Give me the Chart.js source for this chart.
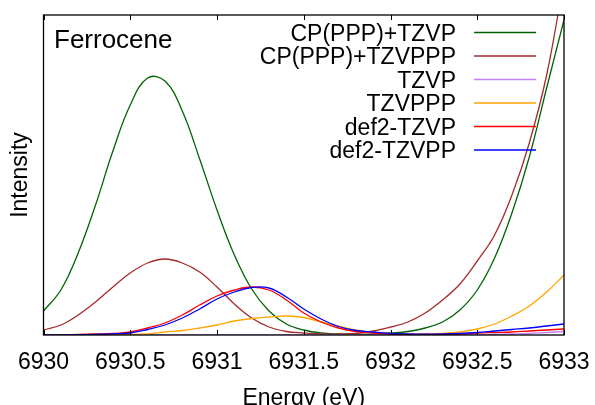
<!DOCTYPE html>
<html>
<head>
<meta charset="utf-8">
<script src="https://cdn.jsdelivr.net/npm/chart.js@4.4.0/dist/chart.umd.min.js"></script>
<style>
  html, body { margin: 0; padding: 0; background: #fff; overflow: hidden; }
  canvas { display: block; }
</style>
</head>
<body>
<canvas id="xanes" width="595" height="420"></canvas>
<script>
// pre-edge spectra, energy grid in eV
const energy = [6930.0, 6930.1, 6930.2, 6930.3, 6930.4, 6930.5, 6930.6, 6930.7, 6930.8, 6930.9,
                6931.0, 6931.1, 6931.2, 6931.3, 6931.4, 6931.5, 6931.6, 6931.7, 6931.8, 6931.9,
                6932.0, 6932.1, 6932.2, 6932.3, 6932.4, 6932.5, 6932.6, 6932.7, 6932.8, 6932.9,
                6933.0];

const cpTzvp   = [24, 45, 82, 130, 184, 230, 257, 254, 224, 176,
                  125, 80, 46, 24, 11, 5, 2, 1, 0.5, 1,
                  2, 3.5, 7, 13, 25, 45, 77, 122, 178, 247,
                  315];
const cpTzvppp = [5, 10, 20, 33, 48, 62, 72, 76, 72, 63,
                  48, 31, 17, 8, 3.5, 2, 1, 1, 1.5, 4,
                  8, 13, 22, 35, 51, 74, 100, 140, 192, 260,
                  355];
const tzvp     = [0, 0, 0, 0, 0, 0, 0, 0, 0, 0,
                  0, 0, 0, 0, 0, 0, 0, 0, 0, 0,
                  0, 0, 0, 0, 0, 0.3, 0.6, 1, 1.5, 2.5,
                  3.5];
const tzvppp   = [0, 0, 0, 0, 0.1, 0.5, 1.2, 3, 4.5, 7,
                  10, 14, 16.5, 18, 19, 17.5, 13, 9, 5, 2.5,
                  1.5, 1, 1, 1.5, 3, 6, 11, 19, 29, 43,
                  60];
const def2Tzvp = [0, 0, 0.5, 1, 1.5, 3, 7, 12, 20, 30,
                  39, 45, 48, 45, 35, 22, 13, 7, 3.5, 2,
                  1, 0.5, 0.5, 0.5, 1, 2, 2.5, 3, 4, 5,
                  6];
const def2Tzvpp = [0, 0, 0.3, 0.6, 1.2, 2, 5.5, 10, 17, 26,
                   36, 43, 47.5, 47, 38, 26, 16, 8.5, 4.5, 3,
                   1.5, 1, 0.8, 1, 1.5, 2.5, 4, 5.5, 7, 9,
                   11];

const energyTicks = [6930, 6930.5, 6931, 6931.5, 6932, 6932.5, 6933];

const series = [
  { label: 'CP(PPP)+TZVP',   data: cpTzvp,    color: '#006400' },
  { label: 'CP(PPP)+TZVPPP', data: cpTzvppp,  color: '#a52a2a' },
  { label: 'TZVP',           data: tzvp,      color: '#c080ff' },
  { label: 'TZVPPP',         data: tzvppp,    color: '#ffa500' },
  { label: 'def2-TZVP',      data: def2Tzvp,  color: '#ff0000' },
  { label: 'def2-TZVPP',     data: def2Tzvpp, color: '#0000ff' }
];

const FONT = "'Liberation Sans', Arial, Helvetica, sans-serif";

// gnuplot style border with inward tics on bottom and top
const frame = {
  id: 'frame',
  afterDatasetsDraw(chart) {
    const {ctx, chartArea: a, scales: {x}} = chart;
    ctx.save();
    ctx.strokeStyle = '#000';
    ctx.lineWidth = 1.3;
    ctx.strokeRect(a.left, a.top, a.right - a.left, a.bottom - a.top);
    ctx.lineWidth = 1;
    x.ticks.forEach(t => {
      const px = Math.round(x.getPixelForValue(t.value)) + 0.5;
      ctx.beginPath();
      ctx.moveTo(px, a.bottom);
      ctx.lineTo(px, a.bottom - 5);
      ctx.moveTo(px, a.top);
      ctx.lineTo(px, a.top + 5);
      ctx.stroke();
    });
    ctx.restore();
  }
};

// key in the top right corner: right aligned text, line sample after it
const key = {
  id: 'key',
  afterDraw(chart) {
    const {ctx} = chart;
    ctx.save();
    ctx.font = '23px ' + FONT;
    ctx.fillStyle = '#000';
    ctx.textAlign = 'right';
    ctx.textBaseline = 'alphabetic';
    chart.data.datasets.forEach((ds, i) => {
      const y = 32.5 + i * 23.5;
      ctx.fillText(ds.label, 456, y + 8);
      ctx.strokeStyle = ds.borderColor;
      ctx.lineWidth = 1.5;
      ctx.beginPath();
      ctx.moveTo(474, y);
      ctx.lineTo(536, y);
      ctx.stroke();
    });
    ctx.font = '26px ' + FONT;
    ctx.textAlign = 'left';
    ctx.fillText('Ferrocene', 54, 48);
    ctx.restore();
  }
};

new Chart(document.getElementById('xanes'), {
  type: 'line',
  data: {
    datasets: series.map((s, i) => ({
      label: s.label,
      data: s.data.map((v, j) => ({x: energy[j], y: v})),
      borderColor: s.color,
      backgroundColor: s.color,
      borderWidth: 1.3,
      pointRadius: 0,
      tension: 0.4,
      order: series.length - i
    }))
  },
  options: {
    responsive: false,
    animation: false,
    events: [],
    layout: { padding: { top: 15, right: 31, left: 0, bottom: 0 } },
    plugins: { legend: { display: false }, tooltip: { enabled: false } },
    scales: {
      x: {
        type: 'linear',
        min: 6930,
        max: 6933,
        afterBuildTicks: scale => { scale.ticks = energyTicks.map(v => ({value: v})); },
        afterFit: scale => {
          scale.height = 85;
          scale.paddingLeft = 0;
          scale.paddingRight = 0;
        },
        grid: { display: false },
        border: { display: false },
        ticks: {
          autoSkip: false,
          maxRotation: 0,
          padding: 6,
          color: '#000',
          font: { family: FONT, size: 23 },
          callback: v => String(v)
        },
        title: {
          display: true,
          text: 'Energy (eV)',
          color: '#000',
          font: { family: FONT, size: 23 },
          padding: { top: 0, bottom: 8 }
        }
      },
      y: {
        min: 0,
        max: 320,
        afterFit: scale => { scale.width = 43.5; },
        grid: { display: false },
        border: { display: false },
        ticks: { display: false },
        title: {
          display: true,
          text: 'Intensity',
          color: '#000',
          font: { family: FONT, size: 23 },
          padding: { top: 7, bottom: 0 }
        }
      }
    }
  },
  plugins: [frame, key]
});
</script>
</body>
</html>
